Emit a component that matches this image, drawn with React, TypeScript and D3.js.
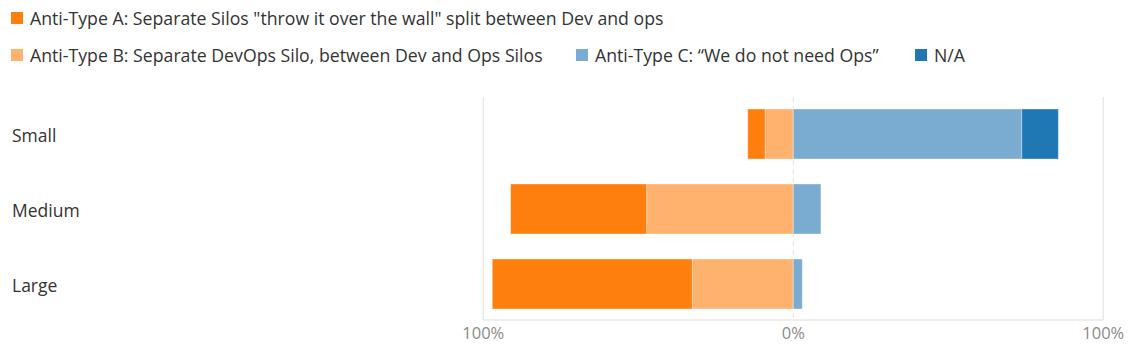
import React from "react";
import * as d3 from "d3";

const categories = ["Small", "Medium", "Large"];
const typeA = [5.6, 43.9, 64.5];
const typeB = [9.1, 47.3, 32.6];
const typeC = [73.7, 8.9, 2.9];
const typeNA = [11.8, 0, 0];

const seriesNames = [
  'Anti-Type A: Separate Silos "throw it over the wall" split between Dev and ops',
  "Anti-Type B: Separate DevOps Silo, between Dev and Ops Silos",
  "Anti-Type C: \u201CWe do not need Ops\u201D",
  "N/A",
];
const colors = ["#ff7f0e", "#ffb26e", "#7aacd2", "#1f77b4"];
const tickValues = [-100, 0, 100];
const tickLabels = ["100%", "0%", "100%"];

const W = 1131;
const H = 356;
const FONT = "'Open Sans', 'Noto Sans', sans-serif";

export default function App() {
  const x = d3.scaleLinear().domain([-100, 100]).range([483.3, 1103.3]);
  const y = d3
    .scaleBand<string>()
    .domain(categories)
    .range([96.5, 321.5])
    .paddingInner(1 / 3)
    .paddingOuter(1 / 6);

  type Seg = { cat: string; s: number; x0: number; x1: number };
  const segs: Seg[] = [];
  categories.forEach((cat, i) => {
    const a = typeA[i], b = typeB[i], c = typeC[i], n = typeNA[i];
    segs.push({ cat, s: 1, x0: -b, x1: 0 });
    segs.push({ cat, s: 0, x0: -b - a, x1: -b });
    segs.push({ cat, s: 2, x0: 0, x1: c });
    segs.push({ cat, s: 3, x0: c, x1: c + n });
  });

  const legendItems = [
    { i: 0, x: 11, y: 18 },
    { i: 1, x: 11, y: 55 },
    { i: 2, x: 576, y: 55 },
    { i: 3, x: 915, y: 55 },
  ];

  const x0 = x(0);
  const plotTop = 97;
  const plotBottom = 320;

  return (
    <svg
      width={W}
      height={H}
      style={{ position: "absolute", left: 0, top: 0, background: "#fff" }}
      fontFamily={FONT}
    >
      {legendItems.map((l) => (
        <g key={l.i}>
          <rect x={l.x} y={l.y - 6} width={12} height={12} fill={colors[l.i]} />
          <text x={l.x + 19} y={l.y + 6.5} fontSize={17.7} fill="#333">
            {seriesNames[l.i]}
          </text>
        </g>
      ))}

      <line x1={x(-100)} x2={x(-100)} y1={plotTop} y2={plotBottom} stroke="#e8e8e8" strokeWidth={1.5} />
      <line x1={x(100)} x2={x(100)} y1={plotTop} y2={plotBottom} stroke="#e8e8e8" strokeWidth={1.5} />
      <line x1={x(-100)} x2={x(100)} y1={plotBottom} y2={plotBottom} stroke="#e8e8e8" strokeWidth={1.5} />
      <line x1={x0} x2={x0} y1={plotTop} y2={plotBottom} stroke="#e3e3e3" strokeWidth={1} strokeDasharray="5,4" />

      {segs
        .filter((s) => s.x1 - s.x0 > 0)
        .map((s, k) => (
          <rect
            key={k}
            x={x(s.x0)}
            y={y(s.cat)!}
            width={x(s.x1) - x(s.x0)}
            height={y.bandwidth()}
            fill={colors[s.s]}
            stroke="#ffffff"
            strokeOpacity={0.35}
            strokeWidth={1}
          />
        ))}

      {categories.map((c) => (
        <text key={c} x={12} y={y(c)! + y.bandwidth() / 2 + 8} fontSize={17.5} fill="#333">
          {c}
        </text>
      ))}

      {tickValues.map((t, i) => (
        <text key={i} x={x(t)} y={339} textAnchor="middle" fontSize={16.5} fill="#8a8a8a">
          {tickLabels[i]}
        </text>
      ))}
    </svg>
  );
}
